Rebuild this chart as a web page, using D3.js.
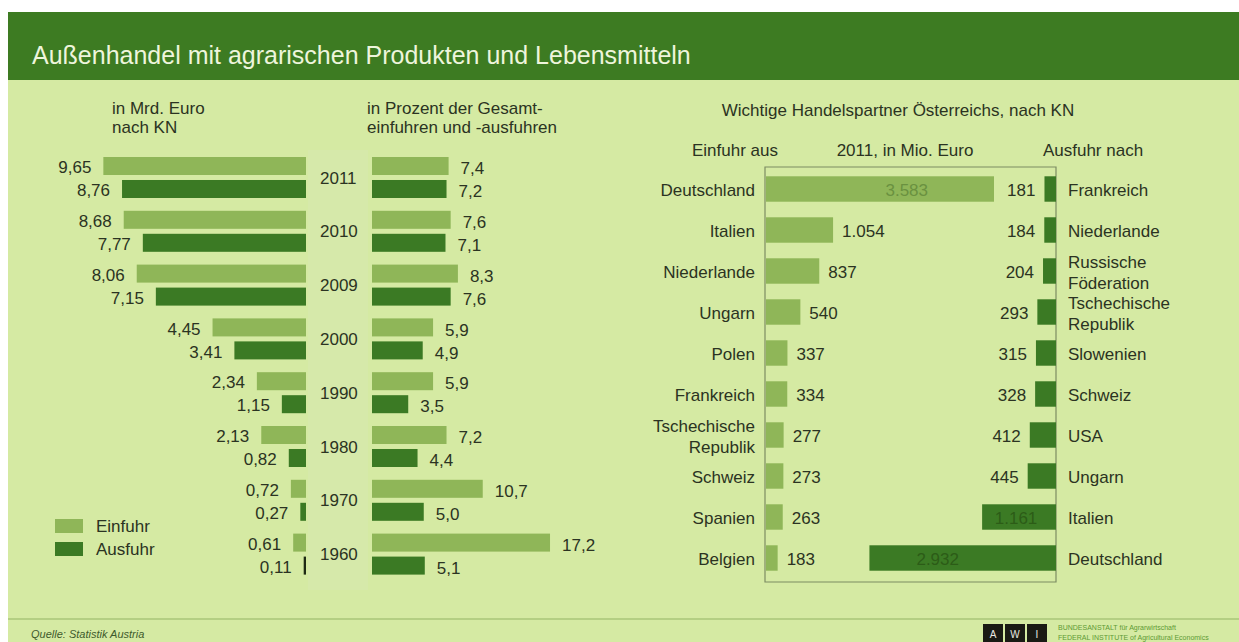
<!DOCTYPE html>
<html>
<head>
<meta charset="utf-8">
<script src="https://cdn.jsdelivr.net/npm/d3@7"></script>
<style>
  body { margin: 0; background: #fff; }
  svg { display: block; font-family: "Liberation Sans", Arial, sans-serif; }
</style>
</head>
<body>
<svg id="chart" width="1239" height="642"></svg>
<script>
// Außenhandel, Mrd. Euro und Prozent
const years = ['2011', '2010', '2009', '2000', '1990', '1980', '1970', '1960'];
const series = ['Einfuhr', 'Ausfuhr'];
const einfuhrMrd = [9.65, 8.68, 8.06, 4.45, 2.34, 2.13, 0.72, 0.61];
const ausfuhrMrd = [8.76, 7.77, 7.15, 3.41, 1.15, 0.82, 0.27, 0.11];
const einfuhrPct = [7.4, 7.6, 8.3, 5.9, 5.9, 7.2, 10.7, 17.2];
const ausfuhrPct = [7.2, 7.1, 7.6, 4.9, 3.5, 4.4, 5.0, 5.1];

// Handelspartner 2011, Mio. Euro
const importPartners = ['Deutschland', 'Italien', 'Niederlande', 'Ungarn', 'Polen', 'Frankreich',
  'Tschechische Republik', 'Schweiz', 'Spanien', 'Belgien'];
const importValues = [3583, 1054, 837, 540, 337, 334, 277, 273, 263, 183];
const exportPartners = ['Frankreich', 'Niederlande', 'Russische Föderation', 'Tschechische Republik',
  'Slowenien', 'Schweiz', 'USA', 'Ungarn', 'Italien', 'Deutschland'];
const exportValues = [181, 184, 204, 293, 315, 328, 412, 445, 1161, 2932];

const de = d3.formatLocale({ decimal: ',', thousands: '.', grouping: [3], currency: ['', ' €'] });
const fmt2 = de.format('.2f');
const fmt1 = de.format('.1f');
const fmtInt = de.format(',d');

const colEin = '#8fb658';
const colAus = '#3b7a24';
const textCol = '#2b3322';

const svg = d3.select('#chart');

// background + title band
svg.append('rect').attr('x', 8).attr('y', 80).attr('width', 1231).attr('height', 562).attr('fill', '#d5eaa3');
svg.append('rect').attr('x', 308).attr('y', 150).attr('width', 60).attr('height', 440).attr('fill', '#dbe7b8').attr('opacity', 0.35);
svg.append('rect').attr('x', 8).attr('y', 12).attr('width', 1231).attr('height', 68).attr('fill', '#3d7b22');
svg.append('text').attr('x', 32).attr('y', 64)
  .attr('font-size', 25).attr('fill', '#eef5dc')
  .text('Außenhandel mit agrarischen Produkten und Lebensmitteln');

function label(x, y, txt, opts) {
  opts = opts || {};
  return svg.append('text').attr('x', x).attr('y', y)
    .attr('font-size', opts.size || 17)
    .attr('fill', opts.fill || textCol)
    .attr('text-anchor', opts.anchor || 'start')
    .attr('font-style', opts.style || null)
    .text(txt);
}

// --- left + middle panels ---
label(112, 114, 'in Mrd. Euro');
label(112, 133, 'nach KN');
label(367, 114, 'in Prozent der Gesamt-');
label(367, 133, 'einfuhren und -ausfuhren');

const yYear = d3.scaleBand().domain(years).range([157, 157 + 8 * 53.8]);
const ySer = d3.scaleBand().domain(series).range([0, 41]).paddingInner(0.217);

const xMrd = d3.scaleLinear().domain([0, 10]).range([0, 210]);
const xPct = d3.scaleLinear().domain([0, 20]).range([0, 207]);
const mrdRight = 306;
const pctLeft = 372;

const rows = years.map((y, i) => ({
  year: y,
  vals: [
    { s: 'Einfuhr', mrd: einfuhrMrd[i], pct: einfuhrPct[i] },
    { s: 'Ausfuhr', mrd: ausfuhrMrd[i], pct: ausfuhrPct[i] }
  ]
}));

const grp = svg.selectAll('g.year').data(rows).join('g')
  .attr('class', 'year')
  .attr('transform', d => `translate(0,${yYear(d.year)})`);

grp.append('text')
  .attr('x', 320).attr('y', 20.5).attr('dy', '0.36em')
  .attr('font-size', 17).attr('fill', textCol)
  .text(d => d.year);

const bars = grp.selectAll('g.bar').data(d => d.vals).join('g').attr('class', 'bar');

bars.append('rect')
  .attr('x', d => mrdRight - xMrd(d.mrd))
  .attr('y', d => ySer(d.s))
  .attr('width', d => Math.max(xMrd(d.mrd), 1.5))
  .attr('height', ySer.bandwidth())
  .attr('fill', d => d.mrd < 0.2 ? '#1e2a14' : (d.s === 'Einfuhr' ? colEin : colAus));

bars.append('text')
  .attr('x', d => mrdRight - xMrd(d.mrd) - 12)
  .attr('y', d => ySer(d.s) + ySer.bandwidth() / 2 + 1)
  .attr('dy', '0.36em')
  .attr('text-anchor', 'end')
  .attr('font-size', 17).attr('fill', textCol)
  .text(d => fmt2(d.mrd));

bars.append('rect')
  .attr('x', pctLeft)
  .attr('y', d => ySer(d.s))
  .attr('width', d => xPct(d.pct))
  .attr('height', ySer.bandwidth())
  .attr('fill', d => d.s === 'Einfuhr' ? colEin : colAus);

bars.append('text')
  .attr('x', d => pctLeft + xPct(d.pct) + 12)
  .attr('y', d => ySer(d.s) + ySer.bandwidth() / 2 + 2)
  .attr('dy', '0.36em')
  .attr('font-size', 17).attr('fill', textCol)
  .text(d => fmt1(d.pct));

// legend
const legend = svg.selectAll('g.legend').data(series).join('g')
  .attr('class', 'legend')
  .attr('transform', (d, i) => `translate(55,${519 + i * 23})`);
legend.append('rect').attr('width', 28).attr('height', 14)
  .attr('fill', d => d === 'Einfuhr' ? colEin : colAus);
legend.append('text').attr('x', 41).attr('y', 7).attr('dy', '0.36em')
  .attr('font-size', 17).attr('fill', textCol).text(d => d);

// --- right panel ---
label(898, 116, 'Wichtige Handelspartner Österreichs, nach KN', { anchor: 'middle' });
label(735, 156, 'Einfuhr aus', { anchor: 'middle' });
label(905, 156, '2011, in Mio. Euro', { anchor: 'middle' });
label(1093, 156, 'Ausfuhr nach', { anchor: 'middle' });

const boxL = 765, boxR = 1056, boxT = 167, boxB = 582;
const xTrade = d3.scaleLinear().domain([0, 3583]).range([0, 228]);
const yImp = d3.scaleBand().domain(importPartners).range([168.5, 578.5]).paddingInner(0.38).paddingOuter(0.19);
const yExp = d3.scaleBand().domain(exportPartners).range([168.5, 578.5]).paddingInner(0.38).paddingOuter(0.19);
const boxMid = (boxL + boxR) / 2;

svg.append('path')
  .attr('d', `M${boxL},${boxT}H${boxR}V${boxB}H${boxL}Z`)
  .attr('fill', 'none').attr('stroke', '#7d8c63').attr('stroke-width', 1.2);

function multiline(sel) {
  sel.each(function(d) {
    const parts = d.name.split(' ');
    const t = d3.select(this);
    parts.forEach((p, i) => {
      t.append('tspan').attr('x', t.attr('x'))
        .attr('dy', i === 0 ? (parts.length > 1 ? '-0.25em' : '0.36em') : '1.25em')
        .text(p);
    });
  });
}

const imp = svg.selectAll('g.imp')
  .data(importPartners.map((n, i) => ({ name: n, v: importValues[i] })))
  .join('g').attr('class', 'imp');

imp.append('rect')
  .attr('x', boxL + 1)
  .attr('y', d => yImp(d.name))
  .attr('width', d => xTrade(d.v))
  .attr('height', yImp.bandwidth())
  .attr('fill', colEin);

imp.append('text')
  .attr('x', 755)
  .attr('y', d => yImp(d.name) + yImp.bandwidth() / 2 + 1)
  .attr('text-anchor', 'end')
  .attr('font-size', 17).attr('fill', textCol)
  .call(multiline);

imp.append('text')
  .attr('x', d => xTrade(d.v) > 120 ? (boxL + xTrade(d.v) / 2 + boxMid) / 2 + 12 : boxL + 1 + xTrade(d.v) + 9)
  .attr('y', d => yImp(d.name) + yImp.bandwidth() / 2 + 1)
  .attr('dy', '0.36em')
  .attr('text-anchor', d => xTrade(d.v) > 120 ? 'middle' : 'start')
  .attr('font-size', 17)
  .attr('fill', d => xTrade(d.v) > 120 ? '#6a9140' : textCol)
  .text(d => fmtInt(d.v));

const exp = svg.selectAll('g.exp')
  .data(exportPartners.map((n, i) => ({ name: n, v: exportValues[i] })))
  .join('g').attr('class', 'exp');

exp.append('rect')
  .attr('x', d => boxR - xTrade(d.v))
  .attr('y', d => yExp(d.name))
  .attr('width', d => xTrade(d.v))
  .attr('height', yExp.bandwidth())
  .attr('fill', colAus);

exp.append('text')
  .attr('x', 1068)
  .attr('y', d => yExp(d.name) + yExp.bandwidth() / 2 + 1)
  .attr('font-size', 17).attr('fill', textCol)
  .call(multiline);

exp.append('text')
  .attr('x', d => xTrade(d.v) > 60 ? boxR - xTrade(d.v) / 2 - (xTrade(d.v) > 120 ? 25 : 3) : boxR - xTrade(d.v) - 9)
  .attr('y', d => yExp(d.name) + yExp.bandwidth() / 2 + 1)
  .attr('dy', '0.36em')
  .attr('text-anchor', d => xTrade(d.v) > 60 ? 'middle' : 'end')
  .attr('font-size', 17)
  .attr('fill', d => xTrade(d.v) > 60 ? '#2c5c17' : textCol)
  .text(d => fmtInt(d.v));

// --- footer ---
svg.append('line').attr('x1', 8).attr('x2', 1239).attr('y1', 619).attr('y2', 619)
  .attr('stroke', '#a8c679').attr('stroke-width', 1.5);
label(31, 638, 'Quelle: Statistik Austria', { size: 11, style: 'italic', fill: '#3e5a2c' });

const logo = ['A', 'W', 'I'];
const logoG = svg.selectAll('g.logo').data(logo).join('g')
  .attr('class', 'logo')
  .attr('transform', (d, i) => `translate(${983 + i * 22},624)`);
logoG.append('rect').attr('width', 20).attr('height', 20).attr('fill', '#1a1a14');
logoG.append('text').attr('x', 10).attr('y', 14).attr('text-anchor', 'middle')
  .attr('font-size', 10).attr('fill', '#e8e8e0').text(d => d);
label(1058, 630, 'BUNDESANSTALT für Agrarwirtschaft', { size: 7, fill: '#5e9a35' });
label(1058, 640, 'FEDERAL INSTITUTE of Agricultural Economics', { size: 7, fill: '#5e9a35' });
</script>
</body>
</html>
